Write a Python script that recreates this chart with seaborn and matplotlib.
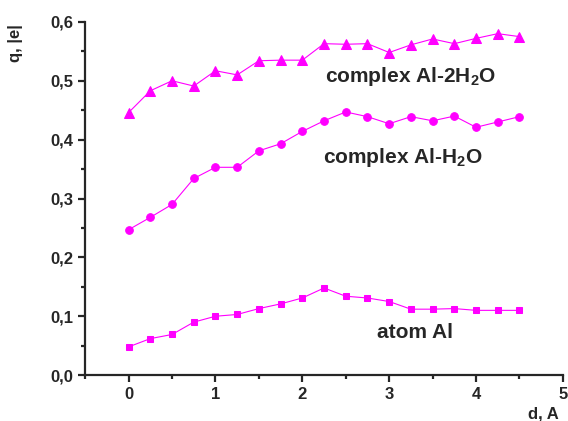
import matplotlib
matplotlib.use('Agg')
import matplotlib.pyplot as plt
from matplotlib.ticker import FuncFormatter, MultipleLocator
import numpy as np
import seaborn as sns

d = [0, 0.25, 0.5, 0.75, 1.0, 1.25, 1.5, 1.75, 2.0, 2.25,
     2.5, 2.75, 3.0, 3.25, 3.5, 3.75, 4.0, 4.25, 4.5]
q_2h2o = [0.446, 0.483, 0.500, 0.491, 0.517, 0.510, 0.534, 0.535, 0.535, 0.563,
          0.562, 0.563, 0.548, 0.561, 0.571, 0.563, 0.572, 0.580, 0.575]
q_h2o = [0.247, 0.268, 0.290, 0.334, 0.353, 0.353, 0.381, 0.393, 0.414, 0.432,
         0.447, 0.439, 0.427, 0.439, 0.432, 0.440, 0.421, 0.430, 0.439]
q_atom = [0.048, 0.062, 0.069, 0.090, 0.100, 0.103, 0.113, 0.121, 0.131, 0.148,
          0.134, 0.131, 0.125, 0.112, 0.112, 0.113, 0.110, 0.110, 0.110]

sns.set_style('ticks')
plt.rcParams['font.family'] = ['Liberation Sans', 'DejaVu Sans']
plt.rcParams['font.weight'] = 'bold'
plt.rcParams['mathtext.fontset'] = 'custom'
plt.rcParams['mathtext.bf'] = 'Liberation Sans:bold'
plt.rcParams['mathtext.rm'] = 'Liberation Sans:bold'

fig = plt.figure(figsize=(5.68, 4.21), dpi=100)
ax = fig.add_axes([0.150, 0.109, 0.841, 0.839])

col = '#ff00ff'
sns.lineplot(x=d, y=q_2h2o, ax=ax, color=col, marker='^', markersize=7,
             markeredgecolor=col, linewidth=0.8)
sns.lineplot(x=d, y=q_h2o, ax=ax, color=col, marker='o', markersize=5.5,
             markeredgecolor=col, linewidth=0.8)
sns.lineplot(x=d, y=q_atom, ax=ax, color=col, marker='s', markersize=4.5,
             markeredgecolor=col, linewidth=0.8)

ax.text(3.25, 0.507, 'complex Al-2H$_\\mathbf{2}$O', ha='center', va='center',
        fontsize=15, fontweight='bold')
ax.text(3.16, 0.369, 'complex Al-H$_\\mathbf{2}$O', ha='center', va='center',
        fontsize=15, fontweight='bold')
ax.text(3.30, 0.073, 'atom Al', ha='center', va='center',
        fontsize=15, fontweight='bold')

ax.set_xlim(-0.5, 5)
ax.set_ylim(0, 0.6)
ax.xaxis.set_major_locator(MultipleLocator(1))
ax.xaxis.set_minor_locator(MultipleLocator(0.5))
ax.yaxis.set_major_locator(MultipleLocator(0.1))
ax.yaxis.set_minor_locator(MultipleLocator(0.05))
ax.yaxis.set_major_formatter(FuncFormatter(lambda v, p: f'{v:.1f}'.replace('.', ',')))
ax.xaxis.set_major_formatter(FuncFormatter(lambda v, p: f'{v:.0f}'))

sns.despine(ax=ax)
for s in ['left', 'bottom']:
    ax.spines[s].set_linewidth(1.6)
ax.tick_params(which='major', length=5, width=1.6, labelsize=12, direction='out')
ax.tick_params(which='minor', length=3, width=1.6, direction='out')
for lab in ax.get_xticklabels() + ax.get_yticklabels():
    lab.set_fontweight('bold')

ax.set_ylabel('q, |e|', fontsize=12, fontweight='bold')
ax.yaxis.set_label_coords(-0.13, 0.94)
ax.set_xlabel('d, A', fontsize=12, fontweight='bold')
ax.xaxis.set_label_coords(0.96, -0.09)

fig.savefig('out.png', dpi=100)
